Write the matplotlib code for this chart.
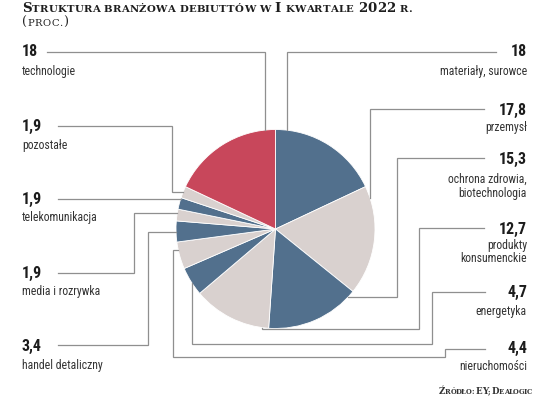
import matplotlib
matplotlib.use('Agg')
import matplotlib.pyplot as plt
from matplotlib import font_manager
import numpy as np

# ---------------- data ----------------
categories = ["materiały, surowce", "przemysł", "ochrona zdrowia,\nbiotechnologia",
              "produkty\nkonsumenckie", "energetyka", "nieruchomości", "handel detaliczny",
              "media i rozrywka", "telekomunikacja", "pozostałe", "technologie"]
values = [18, 17.8, 15.3, 12.7, 4.7, 4.4, 3.4, 1.9, 1.9, 1.9, 18]
value_labels = ["18", "17,8", "15,3", "12,7", "4,7", "4,4", "3,4", "1,9", "1,9", "1,9", "18"]
title = "Struktura branżowa debiuttów w I kwartale 2022 r."
subtitle = "(proc.)"
source = "Źródło: EY; Dealogic"

BLUE, LIGHT, RED = '#52708d', '#d9d1cf', '#c8475b'
colors = [BLUE, LIGHT, BLUE, LIGHT, BLUE, LIGHT, BLUE, LIGHT, BLUE, LIGHT, RED]

# ---------------- layout (pixel coords, y from top) ----------------
W, H = 536, 398
CX, CY, R = 275.5, 229, 99.5
# side, number y, label y, leader route, final direction to pie edge
layout = [
    ('R', 52, 72, [(496, 52), (287, 52)], 'v'),
    ('R', 110, 128, [(484, 109), (370, 109)], 'v'),
    ('R', 159, 186, [(484, 158), (397, 158), (397, 297)], 'h'),
    ('R', 229, 252, [(484, 228), (419, 228), (419, 329), (262, 329)], 'v'),
    ('R', 292, 311, [(485, 292), (432, 292), (432, 344), (192, 344)], 'v'),
    ('R', 348, 367, [(485, 349), (445, 349), (445, 357), (173, 357), (173, 250)], 'h'),
    ('L', 346, 365, [(58, 345), (148, 345), (148, 232)], 'h'),
    ('L', 273, 292, [(58, 273), (134, 273), (134, 213)], 'h'),
    ('L', 199, 218, [(58, 199)], 'h'),
    ('L', 126, 146, [(58, 126), (172, 126), (172, 192)], 'h'),
    ('L', 52, 71, [(47, 52), (265, 52)], 'v'),
]
XL, XR = 22, 527


def Y(y):
    return H - y


names = {f.name for f in font_manager.fontManager.ttflist}
if 'Liberation Sans Narrow' in names:
    NF = dict(family='Liberation Sans Narrow')
elif 'Roboto Condensed' in names:
    NF = dict(family='Roboto Condensed')
else:
    NF = dict(family='DejaVu Sans', stretch='condensed')
SERIF = 'DejaVu Serif' if 'DejaVu Serif' in names else 'Liberation Serif'

fig = plt.figure(figsize=(W / 100, H / 100), dpi=100)
ax = fig.add_axes([0, 0, 1, 1])
wedges, _ = ax.pie(values, colors=colors, startangle=90, counterclock=False,
                   center=(CX, Y(CY)), radius=R,
                   wedgeprops=dict(edgecolor='white', linewidth=0.6), frame=False)
ax.set_xlim(0, W)
ax.set_ylim(0, H)
ax.set_aspect('auto')
ax.axis('off')


def edge_point(p, mode):
    x, y = p
    if mode == 'h':
        dx = np.sqrt(max(R ** 2 - (y - CY) ** 2, 0))
        return (CX - dx if x < CX else CX + dx, y)
    dy = np.sqrt(max(R ** 2 - (x - CX) ** 2, 0))
    return (x, CY - dy if y < CY else CY + dy)


for i, (side, ny, ly, route, mode) in enumerate(layout):
    pts = list(route) + [edge_point(route[-1], mode)]
    xs = [p[0] for p in pts]
    ys = [Y(p[1]) for p in pts]
    ax.plot(xs, ys, color='#8f8f8f', lw=0.9, solid_joinstyle='miter', zorder=1)
    x = XL if side == 'L' else XR
    ha = 'left' if side == 'L' else 'right'
    ax.text(x, Y(ny), value_labels[i], ha=ha, va='center', fontsize=11.5,
            fontweight='bold', color='#1c1c1c', **NF)
    ax.text(x, Y(ly), categories[i], ha=ha, va='center', fontsize=8.5,
            color='#333333', linespacing=1.1, multialignment=ha, **NF)

# ---------------- small caps texts (per-character, with tracking) ----------------
renderer = fig.canvas.get_renderer()
_cache = {}


def text_w(s, size, weight):
    key = (s, round(size, 3), weight)
    if key not in _cache:
        t = ax.text(0, 0, s, fontsize=size, family=SERIF, fontweight=weight)
        _cache[key] = t.get_window_extent(renderer).width
        t.remove()
    return _cache[key]


def advance(c, size, weight):
    return text_w('H' + c + 'H', size, weight) - text_w('HH', size, weight)


def smallcaps_chars(s, big, small):
    out = []
    for ch in s:
        if ch.isalpha():
            size = big if ch.isupper() else small
        elif ch in '.:;, ':
            size = small
        else:
            size = big
        out.append((ch.upper(), size))
    return out


def draw_smallcaps(s, x, y, big, small, weight, color, target_w, ha='left'):
    chars = smallcaps_chars(s, big, small)
    advs = [advance(c, sz, weight) for c, sz in chars]
    last_w = text_w(chars[-1][0], chars[-1][1], weight)
    natural = sum(advs[:-1]) + last_w
    track = (target_w - natural) / max(len(chars) - 1, 1)
    cx = x if ha == 'left' else x - target_w
    for (c, sz), a in zip(chars, advs):
        if c != ' ':
            ax.text(cx, Y(y), c, fontsize=sz, family=SERIF, fontweight=weight,
                    color=color, ha='left', va='baseline')
        cx += a + track


draw_smallcaps(title, 22, 11.5, 9.6, 7.3, 'bold', '#1e1e1e', target_w=390)
draw_smallcaps(subtitle, 22, 25.5, 9.4, 7.2, 'normal', '#1e1e1e', target_w=46)
draw_smallcaps(source, 532, 394, 6.2, 4.9, 'bold', '#333333', target_w=93, ha='right')

fig.savefig('out.png', dpi=100)
